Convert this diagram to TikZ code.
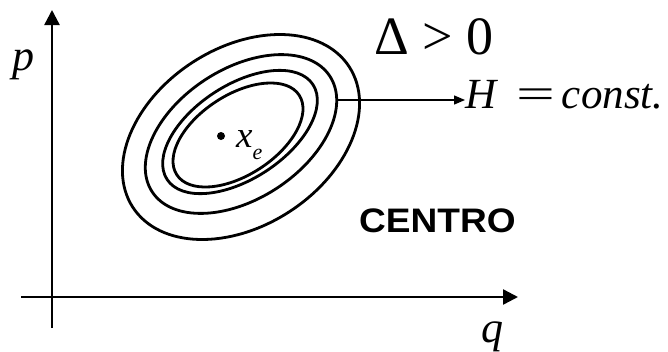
\documentclass[tikz,border=0pt]{standalone}
\usepackage{fontspec}
\setmainfont{Liberation Serif}
\setsansfont{Liberation Sans}
\usetikzlibrary{arrows.meta}
\tikzset{
  axis/.style={line width=2.4pt, -{Triangle[length=15pt,width=15pt]}},
  contour/.style={line width=2.8pt},
  pointer/.style={line width=1.3pt, -{Triangle[length=11pt,width=9pt]}},
  lbl/.style={inner sep=0pt, anchor=base west},
}
\begin{document}
\begin{tikzpicture}[x=1pt,y=-1pt]
\useasboundingbox (0,0) rectangle (668,351);
% axes
\coordinate (qstart) at (21,297);
\coordinate (qend) at (518,297);
\coordinate (pstart) at (52,328);
\coordinate (pend) at (52,10);
\draw[axis] (qstart) -- (qend);
\draw[axis] (pstart) -- (pend);
% contours
\coordinate (c1) at (241,137);
\coordinate (c2) at (241,134);
\coordinate (c3) at (240,132);
\coordinate (c4) at (238,135);
\draw[contour, rotate around={33:(c1)}] (c1) ellipse [x radius=129pt, y radius=89pt];
\draw[contour, rotate around={33:(c2)}] (c2) ellipse [x radius=106pt, y radius=65pt];
\draw[contour, rotate around={33:(c3)}] (c3) ellipse [x radius=87pt, y radius=47pt];
\draw[contour, rotate around={33:(c4)}] (c4) ellipse [x radius=73pt, y radius=40pt];
% equilibrium point
\fill (221,136) circle [radius=4pt];
\node[lbl] (xe) at (236,147) {\fontsize{37}{37}\selectfont\textit{x}\raisebox{-12pt}{\fontsize{22}{22}\selectfont\textit{e}}};
% labels
\node[lbl] (p) at (12,70) {\fontsize{44}{44}\selectfont\textit{p}};
\node[lbl] (q) at (481,342) {\fontsize{44}{44}\selectfont\textit{q}};
\node[lbl] (delta) at (374,54) {\fontsize{54}{54}\selectfont Δ > 0};
\node[lbl] (H) at (465,108) {\fontsize{43}{43}\selectfont\textit{H}\hspace{18pt}\scalebox{1.6}[1]{=}\hspace{7pt}\textit{const.}};
\node[lbl] (centro) at (359,232) {\fontsize{34}{34}\selectfont\sffamily\bfseries\scalebox{1.09}[1]{CENTRO}};
% pointer
\coordinate (hs) at (338,100);
\draw[pointer] (hs) -- (H.west |- hs);
\end{tikzpicture}
\end{document}
